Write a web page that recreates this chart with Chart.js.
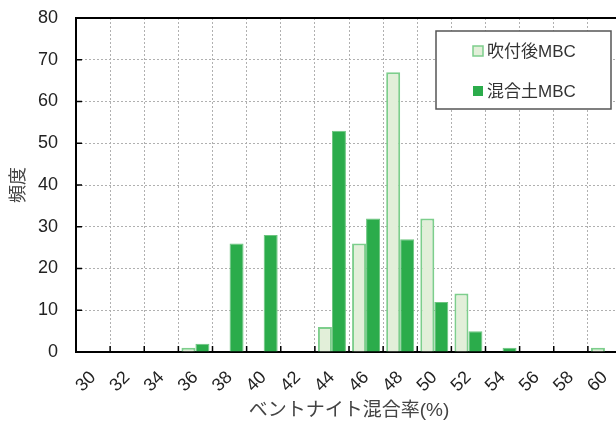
<!DOCTYPE html>
<html><head><meta charset="utf-8">
<script src="https://cdn.jsdelivr.net/npm/chart.js@4/dist/chart.umd.min.js"></script>
<style>
html,body{margin:0;padding:0;background:#fff;overflow:hidden;}
#wrap{position:relative;width:622px;height:427px;}
</style></head>
<body><div id="wrap"><canvas id="c"></canvas></div>
<script>
const categories = ['30','32','34','36','38','40','42','44','46','48','50','52','54','56','58','60'];
const sprayedMBC = [0,0,0,1,0,0,0,6,26,67,32,14,0,0,0,1];
const mixedSoilMBC = [0,0,0,2,26,28,0,53,32,27,12,5,1,0,0,0];
const seriesNames = ['吹付後MBC','混合土MBC'];
const xTitle = 'ベントナイト混合率(%)';
const yTitle = '頻度';
const yMin = 0, yMax = 80, yStep = 10;

const FONT = "'Liberation Sans', 'Noto Sans CJK JP', sans-serif";

const framePlugin = {
  id: 'frame',
  afterDraw(chart) {
    const {ctx, chartArea: a, scales: {x, y}} = chart;
    ctx.save();
    ctx.strokeStyle = '#000';
    ctx.lineWidth = 2;
    ctx.beginPath();
    ctx.moveTo(a.left, a.top); ctx.lineTo(a.right, a.top);
    ctx.stroke();
    ctx.lineWidth = 1.5;
    ctx.beginPath();
    y.ticks.forEach((t, i) => {
      const py = y.getPixelForTick(i);
      ctx.moveTo(a.left, py); ctx.lineTo(a.left + 6, py);
    });
    for (let i = 0; i <= categories.length; i++) {
      const px = x.getPixelForValue(i - 0.5);
      ctx.moveTo(px, a.bottom); ctx.lineTo(px, a.bottom - 6);
    }
    ctx.stroke();

    // legend box
    const bx = a.right - 186, by = a.top + 13, bw = 175, bh = 78;
    ctx.fillStyle = '#fff';
    ctx.fillRect(bx, by, bw, bh);
    ctx.strokeStyle = '#555';
    ctx.lineWidth = 1.5;
    ctx.strokeRect(bx, by, bw, bh);
    ctx.font = '17px ' + FONT;
    ctx.textBaseline = 'middle';
    ctx.textAlign = 'left';
    chart.data.datasets.forEach((ds, i) => {
      const cy = by + 20 + i * 40;
      const mx = bx + 37;
      ctx.fillStyle = ds.backgroundColor;
      ctx.fillRect(mx, cy - 5, 10, 10);
      if (i === 0) {
        ctx.strokeStyle = ds.borderColor;
        ctx.lineWidth = 1.5;
        ctx.strokeRect(mx, cy - 5, 10, 10);
      }
      ctx.fillStyle = '#333';
      ctx.fillText(ds.label, mx + 14, cy + 1);
    });
    ctx.restore();
  }
};

new Chart(document.getElementById('c'), {
  type: 'bar',
  data: {
    labels: categories,
    datasets: [
      {label: seriesNames[0], data: sprayedMBC, backgroundColor: '#e2efd9', borderColor: '#7dce8c', borderWidth: 2, categoryPercentage: 0.82, barPercentage: 1.0},
      {label: seriesNames[1], data: mixedSoilMBC, backgroundColor: '#2bac4b', borderColor: '#6cc47f', borderWidth: 1, categoryPercentage: 0.82, barPercentage: 1.0}
    ]
  },
  options: {
    responsive: true,
    maintainAspectRatio: false,
    animation: false,
    devicePixelRatio: 1,
    layout: {padding: {top: 18, left: 0, right: 0, bottom: 0}},
    plugins: {legend: {display: false}, tooltip: {enabled: false}},
    scales: {
      x: {
        afterFit(s) { s.height = 75; s.paddingLeft = 0; s.paddingRight = 0; },
        grid: {color: '#b0b0b0', lineWidth: 1, drawTicks: false, offset: true},
        border: {color: '#000', width: 2, dash: [2, 2]},
        ticks: {color: '#222', font: {family: FONT, size: 18}, minRotation: 45, maxRotation: 45, padding: 15, autoSkip: false},
        title: {display: true, text: xTitle, color: '#444', font: {family: FONT, size: 19}, padding: {top: 0, bottom: 5}}
      },
      y: {
        min: yMin, max: yMax,
        afterFit(s) { s.width = 76; s.paddingTop = 0; s.paddingBottom = 0; },
        grid: {color: '#b0b0b0', lineWidth: 1, drawTicks: false},
        border: {color: '#000', width: 2, dash: [2, 2]},
        ticks: {stepSize: yStep, color: '#222', font: {family: FONT, size: 18}, padding: 18},
        title: {display: true, text: yTitle, color: '#444', font: {family: FONT, size: 18}, padding: {top: 8, bottom: 0}}
      }
    }
  },
  plugins: [framePlugin]
});
</script>
</body></html>
